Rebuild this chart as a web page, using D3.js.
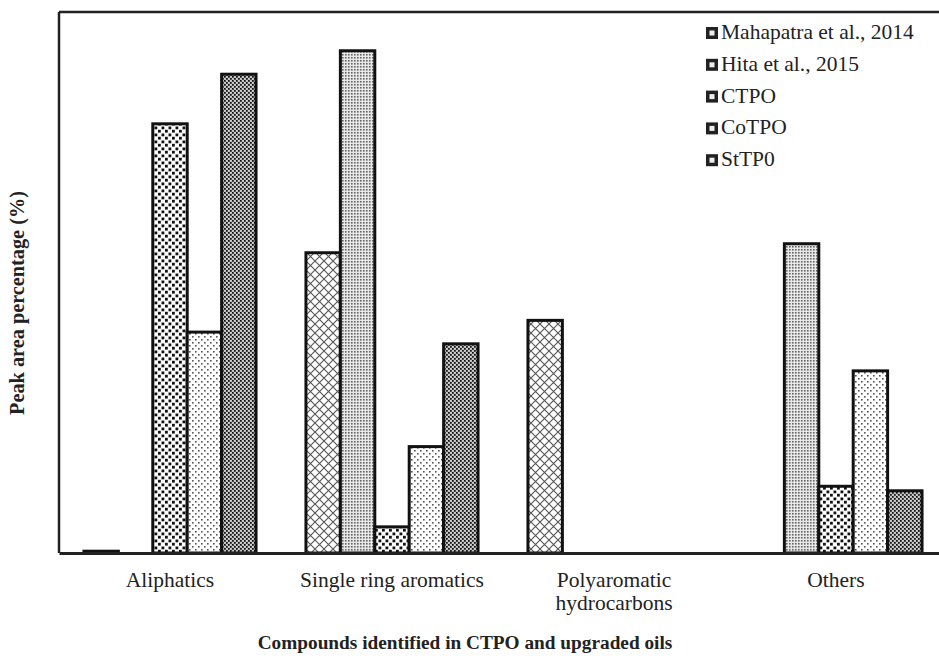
<!DOCTYPE html>
<html>
<head>
<meta charset="utf-8">
<script src="https://cdn.jsdelivr.net/npm/d3@7"></script>
<style>
body { margin: 0; background: #fff; }
</style>
</head>
<body>
<svg id="chart"></svg>
<script>
// categories on x
let categories = ["Aliphatics", "Single ring aromatics", "Polyaromatic hydrocarbons", "Others"];
let categoryLines = [["Aliphatics"], ["Single ring aromatics"], ["Polyaromatic", "hydrocarbons"], ["Others"]];
let seriesNames = ["Mahapatra et al., 2014", "Hita et al., 2015", "CTPO", "CoTPO", "StTP0"];
// peak area (%), one array per series
let mahapatra = [0.2, 33.3, 25.8, 0];
let hita      = [0, 55.7, 0, 34.3];
let ctpo      = [47.6, 2.9, 0, 7.4];
let cotpo     = [24.5, 11.8, 0, 20.2];
let sttp0     = [53.1, 23.2, 0, 6.9];
let seriesValues = [mahapatra, hita, ctpo, cotpo, sttp0];
let patternIds = ["pMah", "pHita", "pCtpo", "pCotpo", "pSttp"];

let width = 939, height = 659;
let marginL = 59, marginT = 12, axisY = 553, rangeR = 947;
let serif = "'Times New Roman', Times, 'Liberation Serif', Tinos, 'DejaVu Serif', 'Noto Serif', serif";

let svg = d3.select("#chart").attr("width", width).attr("height", height)
  .style("display", "block").style("font-family", serif);
let defs = svg.append("defs");

// fill patterns
function pat(id, size, bg) {
  let p = defs.append("pattern").attr("id", id).attr("patternUnits", "userSpaceOnUse")
    .attr("width", size).attr("height", size);
  p.append("rect").attr("width", size).attr("height", size).attr("fill", bg);
  return p;
}
let p1 = pat("pMah", 9, "#fff");
p1.append("path").attr("d", "M0,0L9,9M9,0L0,9").attr("stroke", "#555").attr("stroke-width", 1.1);
let p2 = pat("pHita", 3, "#e8e8e8");
p2.append("rect").attr("x", 0).attr("y", 0).attr("width", 1.6).attr("height", 1.6).attr("fill", "#666");
let p3 = pat("pCtpo", 7, "#fff");
p3.append("rect").attr("x", 0.5).attr("y", 0.5).attr("width", 2.8).attr("height", 2.8).attr("fill", "#111");
p3.append("rect").attr("x", 4).attr("y", 3.8).attr("width", 2.8).attr("height", 2.8).attr("fill", "#111");
let p4 = pat("pCotpo", 6, "#fff");
p4.append("rect").attr("x", 0).attr("y", 0).attr("width", 1.6).attr("height", 1.6).attr("fill", "#555");
p4.append("rect").attr("x", 3).attr("y", 3).attr("width", 1.6).attr("height", 1.6).attr("fill", "#555");
let p5 = pat("pSttp", 4, "#aaa");
p5.append("rect").attr("x", 0).attr("y", 0).attr("width", 1.7).attr("height", 1.7).attr("fill", "#111");
p5.append("rect").attr("x", 2).attr("y", 2).attr("width", 1.7).attr("height", 1.7).attr("fill", "#111");
p5.append("rect").attr("x", 2.3).attr("y", 0.3).attr("width", 1.2).attr("height", 1.2).attr("fill", "#f4f4f4");
p5.append("rect").attr("x", 0.3).attr("y", 2.3).attr("width", 1.2).attr("height", 1.2).attr("fill", "#f4f4f4");

// scales
let x0 = d3.scaleBand().domain(categories).range([marginL, rangeR]);
let x1 = d3.scaleBand().domain(seriesNames).range([0, x0.bandwidth()]).paddingOuter(0.725);
let y = d3.scaleLinear().domain([0, 60]).range([axisY, marginT]);

// bars
let rows = [];
categories.forEach((c, i) => {
  seriesNames.forEach((s, j) => {
    rows.push({cat: c, ser: s, v: seriesValues[j][i], pid: patternIds[j]});
  });
});
svg.append("g").selectAll("rect")
  .data(rows.filter(d => d.v > 0))
  .enter().append("rect")
  .attr("x", d => x0(d.cat) + x1(d.ser))
  .attr("y", d => y(d.v))
  .attr("width", x1.bandwidth())
  .attr("height", d => y(0) - y(d.v))
  .attr("fill", d => "url(#" + d.pid + ")")
  .attr("stroke", "#111")
  .attr("stroke-width", 3);

// frame: left, top, bottom axis
svg.append("line").attr("x1", marginL).attr("x2", marginL).attr("y1", marginT).attr("y2", axisY)
  .attr("stroke", "#222").attr("stroke-width", 2.5);
svg.append("line").attr("x1", marginL).attr("x2", width).attr("y1", marginT).attr("y2", marginT)
  .attr("stroke", "#222").attr("stroke-width", 2.5);

let axisX = d3.axisBottom(x0).tickSize(0).tickFormat("");
let gx = svg.append("g").attr("transform", `translate(0, ${axisY})`).call(axisX);
gx.select(".domain").attr("stroke", "#222").attr("stroke-width", 3);

// category labels
categories.forEach((c, i) => {
  let cx = x0(c) + x0.bandwidth() / 2;
  let t = svg.append("text").attr("text-anchor", "middle").style("font-size", "21.5px")
    .style("font-family", serif).attr("fill", "#222").attr("x", cx).attr("y", 587);
  categoryLines[i].forEach((ln, k) => {
    t.append("tspan").attr("x", cx).attr("dy", k == 0 ? 0 : 23).text(ln);
  });
});

// axis titles
svg.append("text").attr("text-anchor", "middle").style("font-size", "19.3px").attr("font-weight", "bold")
  .style("font-family", serif).attr("fill", "#222").attr("x", 465).attr("y", 649)
  .text("Compounds identified in CTPO and upgraded oils");
svg.append("text").attr("text-anchor", "middle").style("font-size", "20.3px").attr("font-weight", "bold")
  .style("font-family", serif).attr("fill", "#222").attr("transform", "translate(24, 303) rotate(-90)")
  .text("Peak area percentage (%)");

// legend
let lg = svg.append("g").attr("transform", "translate(706, 33)");
seriesNames.forEach((s, j) => {
  let g = lg.append("g").attr("transform", `translate(0, ${j * 31.8})`);
  g.append("rect").attr("x", 0).attr("y", -6).attr("width", 12).attr("height", 12)
    .attr("fill", "#222");
  g.append("rect").attr("x", 3.5).attr("y", -2.5).attr("width", 5).attr("height", 5)
    .attr("fill", "#eee");
  g.append("text").attr("x", 15).attr("y", 6).style("font-size", "21.5px").style("font-family", serif)
    .attr("fill", "#222").text(s);
});
</script>
</body>
</html>
